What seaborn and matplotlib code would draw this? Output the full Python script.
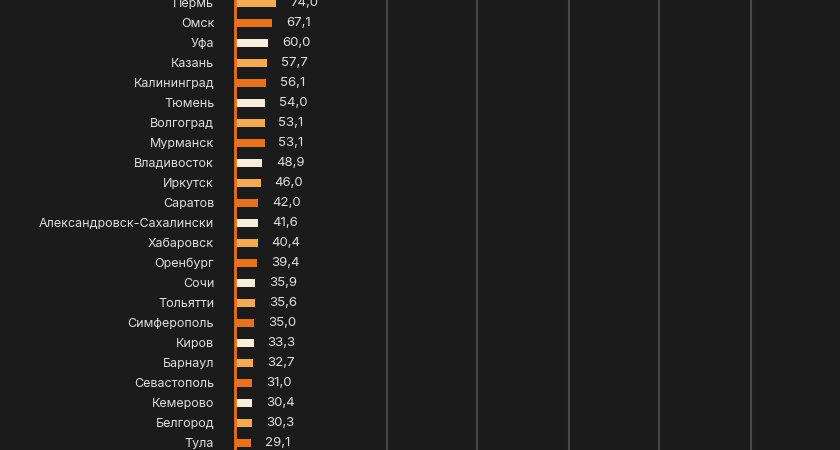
import matplotlib
matplotlib.use('Agg')
import matplotlib.pyplot as plt
import seaborn as sns

# Data
cities = ['Пермь', 'Омск', 'Уфа', 'Казань', 'Калининград', 'Тюмень', 'Волгоград',
          'Мурманск', 'Владивосток', 'Иркутск', 'Саратов', 'Александровск-Сахалински',
          'Хабаровск', 'Оренбург', 'Сочи', 'Тольятти', 'Симферополь', 'Киров',
          'Барнаул', 'Севастополь', 'Кемерово', 'Белгород', 'Тула']
values = [74.0, 67.1, 60.0, 57.7, 56.1, 54.0, 53.1, 53.1, 48.9, 46.0, 42.0, 41.6,
          40.4, 39.4, 35.9, 35.6, 35.0, 33.3, 32.7, 31.0, 30.4, 30.3, 29.1]
grid_ticks = [273, 434, 599, 761, 926]

BG = '#1b1b1b'
LIGHT = '#f2aa55'
DARK = '#e6711f'
CREAM = '#f7eedc'
TEXT = '#dedede'

sns.set_theme(style='dark')
plt.rcParams['font.family'] = ['Inter', 'DejaVu Sans']

cycle = [LIGHT, DARK, CREAM]
colors = [cycle[i % 3] for i in range(len(cities))]

fig = plt.figure(figsize=(8.4, 4.5), dpi=100, facecolor=BG)
ax = fig.add_axes([235 / 840, 0, 1 - 235 / 840, 1])
ax.set_facecolor(BG)

sns.barplot(x=values, y=cities, hue=cities, palette=colors, legend=False,
            orient='h', width=0.42, saturation=1, linewidth=0, ax=ax, zorder=3)

ax.set_xlim(0, 1086)
ax.set_ylim(22.35, -0.15)
ax.set_xticks(grid_ticks)
ax.xaxis.grid(True, color='#474747', linewidth=1.5, zorder=0)
ax.yaxis.grid(False)
ax.tick_params(axis='x', length=0, labelbottom=False)
ax.tick_params(axis='y', length=0, pad=15, labelsize=9, labelcolor=TEXT)
ax.set_xlabel('')
ax.set_ylabel('')
for s in ['top', 'right', 'bottom']:
    ax.spines[s].set_visible(False)
ax.spines['left'].set_color(DARK)
ax.spines['left'].set_linewidth(2)
ax.spines['left'].set_zorder(4)

for i, v in enumerate(values):
    ax.annotate(f'{v:.1f}'.replace('.', ','), xy=(v, i), xytext=(10, 0),
                textcoords='offset points', va='center', ha='left',
                fontsize=9.5, color=TEXT)

fig.savefig('out.png', dpi=100, facecolor=BG)
